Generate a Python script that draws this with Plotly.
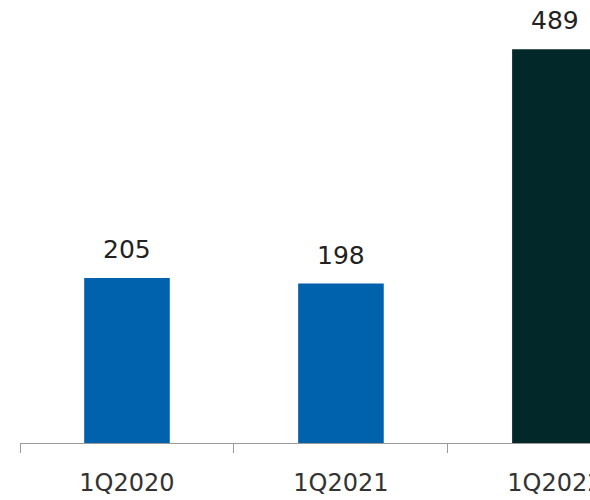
import plotly.graph_objects as go

categories = ["1Q2020", "1Q2021", "1Q2022"]
values = [205, 198, 489]
bar_colors = ["#0061AD", "#0061AD", "#032829"]

FONT = "DejaVu Sans ExtraLight, DejaVu Sans, sans-serif"

fig = go.Figure()
fig.add_trace(go.Bar(
    x=categories, y=values,
    marker=dict(color=bar_colors, line=dict(width=0)),
    width=0.4,
    hoverinfo="skip",
))

for c, v in zip(categories, values):
    fig.add_annotation(
        x=c, y=v, text=str(v), showarrow=False,
        yanchor="bottom", yshift=12,
        font=dict(family=FONT, size=25, color="#222222"),
    )

fig.update_layout(
    width=590, height=500,
    margin=dict(l=20, r=0, t=0, b=57, autoexpand=False),
    paper_bgcolor="white", plot_bgcolor="white",
    showlegend=False,
    xaxis=dict(
        range=[-0.5, 2.164],
        automargin=False,
        showline=True, linecolor="#9a9a9a", linewidth=1,
        ticks="outside", tickson="boundaries", ticklen=9,
        tickcolor="#9a9a9a", tickwidth=1,
        showgrid=False, zeroline=False,
        ticklabelstandoff=18,
        tickfont=dict(family=FONT, size=24, color="#333333"),
    ),
    yaxis=dict(
        range=[0, 550.3], visible=False, showgrid=False, zeroline=False,
        automargin=False,
    ),
)

fig.write_html(
    "out.html",
    config={"displayModeBar": False, "staticPlot": True},
    post_script="document.body.style.margin='0';document.body.style.overflow='hidden';",
)
